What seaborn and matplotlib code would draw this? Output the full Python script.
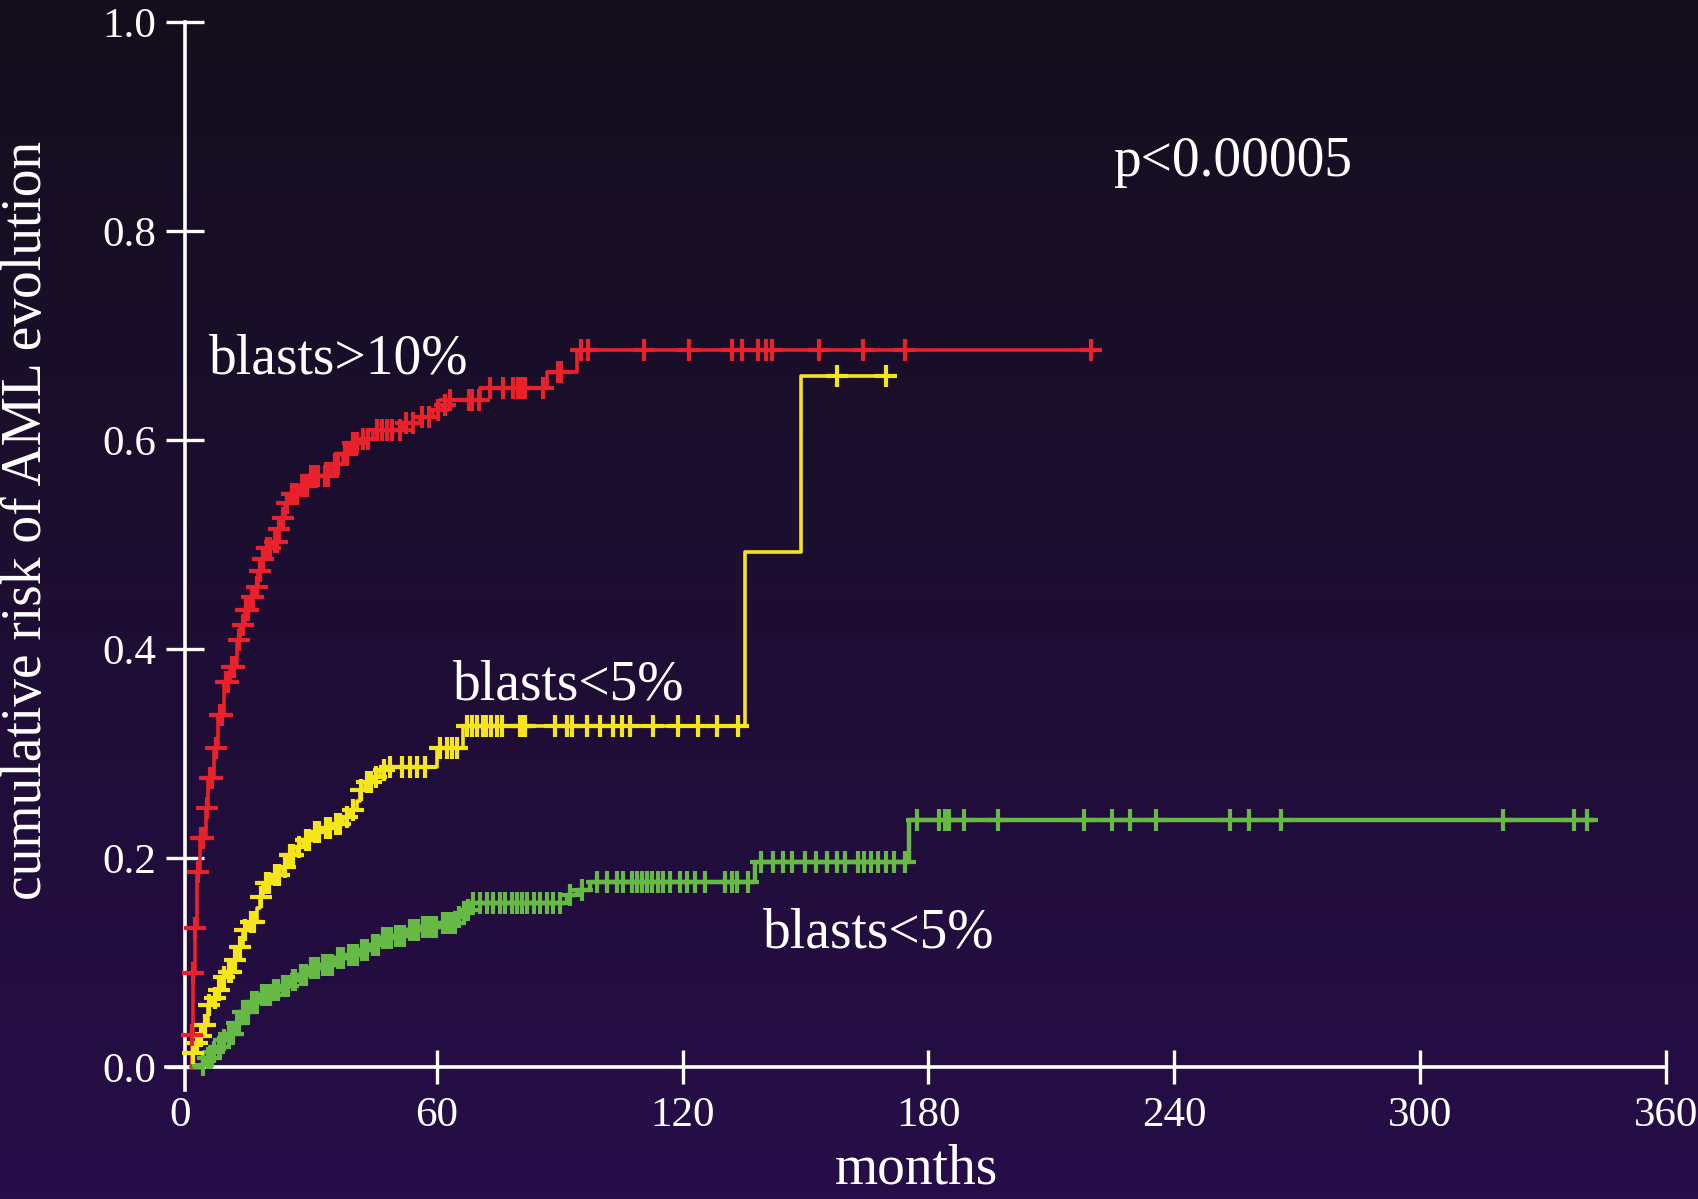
import numpy as np
import pandas as pd
import matplotlib
matplotlib.use("Agg")
import matplotlib.pyplot as plt
import seaborn as sns

# ---------------- data (months, cumulative risk) ----------------
x_ticks = [0, 60, 120, 180, 240, 300, 360]
y_ticks = [0.0, 0.2, 0.4, 0.6, 0.8, 1.0]
y_ticklabels = ["0.0", "0.2", "0.4", "0.6", "0.8", "1.0"]

red_t = [0, 0.2, 0.5, 0.9, 1.4, 2.2, 3.7, 4.2, 5.7, 6.5, 8.1, 9.5, 11.2, 12.0, 13.2,
         14.4, 15.6, 16.4, 17.3, 18.1, 20.1, 21.3, 22.1, 22.9, 24.2, 26.6, 28.6,
         34.5, 37.0, 38.8, 41.4, 44.5, 51.8, 55.9, 59.1, 61.6, 63.2, 70.5, 86.8,
         94.1, 220.4]
red_y = [0, 0.031, 0.090, 0.133, 0.187, 0.219, 0.248, 0.277, 0.305, 0.337, 0.368,
         0.383, 0.409, 0.423, 0.437, 0.450, 0.459, 0.475, 0.486, 0.497, 0.502,
         0.515, 0.525, 0.540, 0.548, 0.556, 0.566, 0.577, 0.587, 0.597, 0.601,
         0.610, 0.616, 0.622, 0.629, 0.634, 0.638, 0.650, 0.665, 0.686, 0.686]
red_cens = [0.3, 0.6, 1.0, 1.6, 2.5, 3.0, 4.0, 4.6, 5.2, 6.0, 7.0, 7.6, 8.6, 9.0,
            10.0, 10.6, 11.6, 12.6, 13.5, 14.0, 14.8, 15.2, 16.0, 16.8, 17.6, 18.6,
            19.2, 20.6, 21.0, 21.6, 22.4, 23.4, 24.6, 25.2, 25.8, 27.0, 27.6, 28.2,
            29.2, 29.8, 30.6, 31.0, 32.6, 33.5, 35.2, 36.0, 37.6, 38.2, 39.6, 40.4,
            42.0, 43.2, 45.3, 46.5, 47.8, 49.0, 51.0, 52.5, 54.2, 56.5, 58.0, 60.2,
            62.0, 63.3, 67.8, 68.6, 70.2, 73.0, 76.2, 78.7, 79.9, 80.7, 81.5, 86.0,
            89.5, 90.3, 95.3, 96.9, 110.6, 121.6, 132.0, 134.5, 138.4, 140.3, 141.8,
            153.3, 164.0, 174.3, 219.7]

yel_t = [0, 0.3, 1.0, 2.0, 3.0, 4.2, 5.2, 6.3, 7.5, 8.7, 10.3, 11.5, 12.8, 14.0,
         16.0, 16.8, 17.6, 19.7, 22.5, 23.4, 25.8, 27.4, 29.5, 32.3, 34.7, 37.2,
         38.8, 40.4, 41.2, 42.5, 44.5, 46.1, 47.8, 60.0, 66.5, 135.2, 148.9, 169.6]
yel_y = [0, 0.013, 0.023, 0.030, 0.040, 0.059, 0.066, 0.074, 0.086, 0.091, 0.102,
         0.115, 0.131, 0.139, 0.152, 0.163, 0.176, 0.184, 0.191, 0.203, 0.211,
         0.217, 0.225, 0.229, 0.233, 0.239, 0.246, 0.255, 0.265, 0.273, 0.278,
         0.284, 0.287, 0.305, 0.326, 0.493, 0.661, 0.661]
yel_cens = [0.5, 1.5, 2.5, 3.5, 4.5, 5.8, 6.8, 8.0, 9.2, 9.8, 10.8, 12.0, 13.2,
            14.6, 15.5, 17.0, 18.3, 19.0, 20.5, 21.5, 23.0, 24.2, 25.0, 26.4, 28.0,
            28.8, 30.2, 31.2, 33.0, 34.0, 35.5, 36.3, 38.0, 39.5, 41.6, 43.0, 44.0,
            45.2, 47.0, 48.6, 51.4, 53.5, 55.1, 57.1, 60.8, 62.4, 63.6, 64.9, 67.3,
            68.5, 69.7, 71.3, 72.1, 73.3, 74.6, 75.8, 80.3, 81.0, 81.5, 88.8, 91.7,
            92.9, 96.6, 99.8, 103.1, 105.1, 107.1, 112.8, 118.9, 123.8, 128.3,
            133.6, 157.7, 169.6]

grn_t = [0, 2.2, 3.8, 5.0, 6.3, 7.5, 8.7, 10.7, 12.4, 14.4, 16.8, 19.7, 21.7, 24.2,
         26.2, 28.6, 31.5, 35.1, 38.0, 41.2, 43.7, 46.1, 49.4, 52.6, 55.9, 60.8,
         64.9, 66.0, 67.3, 68.1, 91.7, 94.1, 97.4, 137.7, 175.2, 342.4]
grn_y = [0, 0.002, 0.009, 0.014, 0.019, 0.026, 0.032, 0.042, 0.053, 0.062, 0.069,
         0.074, 0.078, 0.083, 0.088, 0.095, 0.098, 0.104, 0.107, 0.112, 0.117,
         0.123, 0.125, 0.131, 0.134, 0.138, 0.144, 0.147, 0.150, 0.157, 0.165,
         0.169, 0.177, 0.196, 0.236, 0.236]
grn_cens = [3.0, 4.2, 4.8, 5.6, 6.8, 7.2, 8.0, 9.2, 9.8, 10.2, 11.2, 11.8, 12.8,
            13.4, 14.0, 15.0, 15.6, 16.2, 17.4, 18.0, 18.6, 19.2, 20.2, 20.8, 21.2,
            22.4, 23.0, 23.6, 24.8, 25.4, 26.8, 27.4, 28.0, 29.2, 29.8, 30.6, 31.0,
            32.2, 33.0, 33.6, 34.4, 35.8, 36.4, 37.0, 38.6, 39.2, 40.0, 40.6, 41.8,
            42.4, 43.0, 44.4, 45.0, 45.6, 46.8, 47.4, 48.0, 48.8, 50.0, 50.8, 51.6,
            52.0, 53.4, 54.0, 54.8, 55.4, 56.6, 57.2, 58.0, 59.0, 59.8, 61.6, 62.4,
            63.0, 63.8, 64.4, 65.4, 66.6, 67.6, 68.9, 70.5, 72.2, 73.8, 75.4, 76.6,
            78.3, 79.5, 80.7, 81.9, 83.6, 85.2, 86.8, 88.4, 90.1, 92.5, 95.5, 99.0,
            101.5, 103.9, 105.5, 107.6, 108.8, 110.0, 111.2, 112.5, 114.1, 115.3,
            116.9, 119.4, 121.0, 123.0, 125.5, 130.3, 132.0, 133.2, 136.0, 139.0,
            142.1, 144.5, 146.8, 149.9, 152.5, 155.3, 157.7, 159.7, 162.8, 164.3,
            165.9, 167.7, 169.6, 171.6, 174.3, 177.1, 182.5, 184.0, 184.9, 188.7,
            197.0, 217.9, 224.8, 229.1, 235.6, 253.6, 258.2, 266.1, 320.2, 337.6,
            340.7]

p_text = "p<0.00005"
labels = ["blasts>10%", "blasts<5%", "blasts<5%"]

RED, YEL, GRN = "#e8212a", "#f4e61a", "#66b944"

# ---------------- style ----------------
sns.set_style("white")
plt.rcParams["font.family"] = ["Liberation Serif", "DejaVu Serif"]

W, H = 1698, 1199
fig = plt.figure(figsize=(W / 100, H / 100), dpi=100)

# background gradient
bg = fig.add_axes([0, 0, 1, 1], zorder=-10)
top = np.array([20, 15, 28]) / 255
bot = np.array([39, 13, 73]) / 255
grad = np.linspace(0, 1, 256)[:, None, None] * (bot - top) + top
bg.imshow(grad, aspect="auto", extent=[0, 1, 0, 1], origin="upper")
bg.axis("off")

ax = fig.add_axes([166.4 / W, 0.0909, 1499.6 / W, 0.8907])
ax.patch.set_alpha(0)


def censor_df(t, y, c):
    t = np.asarray(t)
    y = np.asarray(y)
    idx = np.searchsorted(t, c, side="right") - 1
    return pd.DataFrame({"t": c, "y": y[idx]})


for t, y, c, col, lw in [(grn_t, grn_y, grn_cens, GRN, 3.2),
                         (yel_t, yel_y, yel_cens, YEL, 2.6),
                         (red_t, red_y, red_cens, RED, 2.6)]:
    sns.lineplot(x=t, y=y, drawstyle="steps-post", estimator=None, sort=False,
                 color=col, linewidth=lw, ax=ax, zorder=3)
    cd = censor_df(t, y, c)
    sns.scatterplot(data=cd, x="t", y="y", marker="+", s=250, linewidth=3.0,
                    color=col, ax=ax, zorder=4)

ax.set_xlim(-6, 360)
ax.set_ylim(-0.022, 1.0)
ax.set_xlabel("")
ax.set_ylabel("")

for s in ["top", "right"]:
    ax.spines[s].set_visible(False)
ax.spines["left"].set_position(("data", -1.5))
ax.spines["bottom"].set_position(("data", 0))
for s in ["left", "bottom"]:
    ax.spines[s].set_color("white")
    ax.spines[s].set_linewidth(2.6)
    ax.spines[s].set_zorder(2)

ax.set_xticks(x_ticks)
ax.set_xticklabels([str(v) for v in x_ticks])
ax.set_yticks(y_ticks)
ax.set_yticklabels(y_ticklabels)
ax.tick_params(axis="x", bottom=True, direction="inout", length=24, width=2.4,
               colors="white", labelsize=31, pad=9)
ax.tick_params(axis="y", left=True, direction="inout", length=27, width=2.4,
               colors="white", labelsize=31, pad=7)
t0 = ax.xaxis.get_major_ticks()[0]
t0.tick1line.set_visible(False)
t0.label1.set_horizontalalignment("right")

# texts
fig.text(27 / W, 1 - 520 / H, "cumulative risk of AML evolution", rotation=90,
         color="white", fontsize=40, ha="center", va="center")
fig.text(917 / W, 1 - 1170 / H, "months", color="white", fontsize=40,
         ha="center", va="center")
fig.text(1113 / W, 1 - 162 / H, p_text, color="white", fontsize=40,
         ha="left", va="center")
fig.text(209 / W, 1 - 360 / H, labels[0], color="white", fontsize=40,
         ha="left", va="center")
fig.text(453 / W, 1 - 685 / H, labels[1], color="white", fontsize=40,
         ha="left", va="center")
fig.text(763 / W, 1 - 933 / H, labels[2], color="white", fontsize=40,
         ha="left", va="center")

fig.savefig("out.png", dpi=100)
